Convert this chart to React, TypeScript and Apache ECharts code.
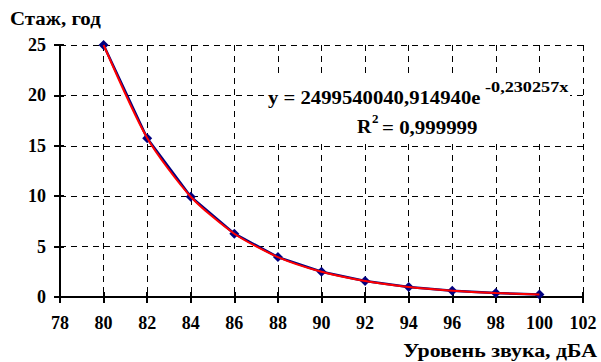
import React, { useEffect, useRef } from "react";
import * as echarts from "echarts";

const soundLevels = [80, 82, 84, 86, 88, 90, 92, 94, 96, 98, 100];
const experienceYears = [25, 15.75, 9.95, 6.28, 3.96, 2.5, 1.58, 0.99, 0.63, 0.4, 0.25];
const trendYears = [25, 15.77, 9.95, 6.28, 3.96, 2.5, 1.58, 0.995, 0.628, 0.396, 0.25];
const xTicks = { min: 78, max: 102, interval: 2 };
const yTicks = { min: 0, max: 25, interval: 5 };
const yTitle = "Стаж, год";
const xTitle = "Уровень звука, дБА";
const eqMain = "y = 2499540040,914940e";
const eqExp = "-0,230257x";
const r2Label = "R";
const r2Sup = "2";
const r2Value = "= 0,999999";

const FONT = "Liberation Serif, Times New Roman, serif";

export default function App() {
  const ref = useRef<HTMLDivElement>(null);
  useEffect(() => {
    if (!ref.current) return;
    const chart = echarts.init(ref.current, null, { renderer: "svg" });
    const grid = { left: 60, right: 18, top: 45, bottom: 65 };
    const dash = { color: "#000", width: 1, type: [6, 5] as any };
    const axisLine = { show: true, onZero: false, lineStyle: { color: "#000", width: 2 } };
    const labelStyle = { color: "#000", fontFamily: FONT, fontWeight: "bold" as const, fontSize: 18 };
    const gStyle = { fill: "#000", fontFamily: FONT, fontWeight: "bold" as const };
    const pts = soundLevels.map((x, i) => [x, experienceYears[i]]);
    const trend = soundLevels.map((x, i) => [x, trendYears[i]]);
    chart.setOption({
      animation: false,
      backgroundColor: "#fff",
      textStyle: { fontFamily: FONT },
      grid,
      xAxis: [
        {
          type: "value", ...xTicks, position: "bottom",
          axisLine,
          axisTick: { show: true, inside: false, length: 6, lineStyle: { color: "#000", width: 2 } },
          axisLabel: { ...labelStyle, margin: 17 },
          splitLine: { show: true, lineStyle: dash },
        },
        {
          type: "value", ...xTicks, position: "bottom",
          axisLine: { show: false },
          axisTick: { show: true, inside: true, length: 5, lineStyle: { color: "#000", width: 2 } },
          axisLabel: { show: false },
          splitLine: { show: false },
        },
      ],
      yAxis: [
        {
          type: "value", ...yTicks, position: "left",
          axisLine,
          axisTick: { show: true, inside: false, length: 6, lineStyle: { color: "#000", width: 2 } },
          axisLabel: { ...labelStyle, margin: 14 },
          splitLine: { show: true, lineStyle: dash },
        },
        {
          type: "value", ...yTicks, position: "left",
          axisLine: { show: false },
          axisTick: { show: true, inside: true, length: 4, lineStyle: { color: "#000", width: 2 } },
          axisLabel: { show: false },
          splitLine: { show: false },
        },
      ],
      series: [
        {
          type: "line", data: pts, xAxisIndex: 0, yAxisIndex: 0,
          symbol: "diamond", symbolSize: 10,
          itemStyle: { color: "#000080" },
          lineStyle: { color: "#000080", width: 2.5 },
          z: 3,
        },
        {
          type: "line", data: trend, xAxisIndex: 0, yAxisIndex: 0,
          smooth: 0.25, symbol: "none",
          lineStyle: { color: "#ff0000", width: 2 },
          z: 4,
        },
      ],
      graphic: [
        { type: "text", x: 10, y: 18, scaleX: 1.1, style: { text: yTitle, ...gStyle, fontSize: 19, verticalAlign: "middle" } },
        { type: "text", x: 597, y: 351, scaleX: 1.15, style: { text: xTitle, ...gStyle, fontSize: 19, align: "right", verticalAlign: "middle" } },
        { type: "rect", shape: { x: 265, y: 77, width: 305, height: 64 }, style: { fill: "#fff" }, z: 10 },
        { type: "text", x: 268, y: 97, scaleX: 1.09, style: { text: eqMain, ...gStyle, fontSize: 19, verticalAlign: "middle" }, z: 11 },
        { type: "text", x: 485, y: 88, scaleX: 1.3, style: { text: eqExp, ...gStyle, fontSize: 14, verticalAlign: "middle" }, z: 11 },
        { type: "text", x: 357, y: 127, scaleX: 1.05, style: { text: r2Label, ...gStyle, fontSize: 19, verticalAlign: "middle" }, z: 11 },
        { type: "text", x: 372, y: 118, style: { text: r2Sup, ...gStyle, fontSize: 13, verticalAlign: "middle" }, z: 11 },
        { type: "text", x: 382, y: 127, scaleX: 1.1, style: { text: r2Value, ...gStyle, fontSize: 19, verticalAlign: "middle" }, z: 11 },
      ],
    });
    return () => chart.dispose();
  }, []);
  return <div ref={ref} style={{ width: 601, height: 362, position: "absolute", left: 0, top: 0 }} />;
}
